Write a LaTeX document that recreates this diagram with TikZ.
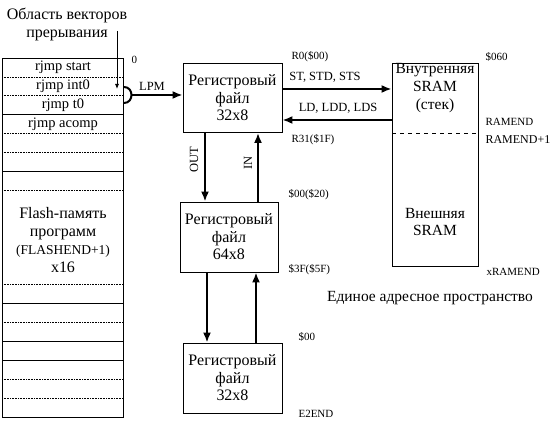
\documentclass[tikz,border=0pt]{standalone}
\usepackage{fontspec}
\setmainfont{Liberation Serif}
\usepackage{tikz}
\usetikzlibrary{positioning,arrows.meta,calc}

\begin{document}
\begin{tikzpicture}[x=1pt, y=-1pt, font=\fontsize{15}{18}\selectfont,
  membox/.style={draw, line width=0.8pt, inner sep=0pt, align=center,
                 font=\fontsize{16}{17.5}\selectfont},
  bus/.style={line width=2.4pt, -{Latex[length=10pt,width=8pt]}},
  addr/.style={anchor=west, font=\fontsize{11}{13}\selectfont},
  buslabel/.style={font=\fontsize{12.5}{14}\selectfont},
  rowsep/.style={densely dotted, line width=0.6pt},
  rowline/.style={line width=0.8pt}]
\useasboundingbox (0,0) rectangle (558,427);
% flash program memory
\node[membox, minimum width=121pt, minimum height=359pt] (flash) at (62.5,237.5) {};
\foreach \k/\st in {1/rowsep,2/rowsep,3/rowline,4/rowsep,5/rowsep,6/rowline,7/rowsep,
                    12/rowsep,13/rowline,14/rowsep,15/rowline,16/rowline,17/rowsep,18/rowsep}
  \draw[\st] (2,{58+18.9*\k}) -- (123,{58+18.9*\k});
\node[font=\fontsize{14.5}{17}\selectfont] (rstart) at (63,67.5) {rjmp start};
\node[font=\fontsize{14.5}{17}\selectfont] (rint) at (63,86.4) {rjmp int0};
\node[font=\fontsize{14.5}{17}\selectfont] (rtim) at (63,105.3) {rjmp t0};
\node[font=\fontsize{14.5}{17}\selectfont] (racomp) at (63,124.2) {rjmp acomp};
\node[align=center, font=\fontsize{16}{17.7}\selectfont] (flashtxt) at (63,240)
  {Flash-память\\программ\\{\fontsize{13.5}{14}\selectfont (FLASHEND+1)}\\x16};
% interrupt vectors
\node[align=center, font=\fontsize{16}{18}\selectfont] (vecarea) at (67,24) {Область векторов\\прерывания};
\coordinate (vtop) at (117,31);
\coordinate (vend) at (117,89);
\draw[-{Latex[length=5pt,width=4pt]}, line width=0.8pt] (vtop) -- (vend);
\node[addr] (zero) at (128,60) {0};
% LPM
\coordinate (lpmA) at (124,87);
\coordinate (lpmB) at (124,103);
\draw[line width=2pt] (lpmA) .. controls (134,87) and (134,103) .. (lpmB);
\coordinate (lpmstart) at (131,95);
% register files
\node[membox, minimum width=99pt, minimum height=69pt] (rf1) at (232.5,98) {Регистровый\\файл\\32x8};
\node[membox, minimum width=98pt, minimum height=70pt] (rf2) at (229,237) {Регистровый\\файл\\64x8};
\node[membox, minimum width=99pt, minimum height=70pt] (rf3) at (232.5,378) {Регистровый\\файл\\32x8};
\draw[bus] (lpmstart) -- (rf1.west |- lpmstart);
\node[buslabel] (lpm) at (152,86) {LPM};
% SRAM
\node[membox, minimum width=86pt, minimum height=203pt] (sram) at (435,164.5) {};
\node[align=center, font=\fontsize{15.5}{17.7}\selectfont] (sramin) at (435,88) {Внутренняя\\SRAM\\(стек)};
\node[align=center, font=\fontsize{15.5}{17.7}\selectfont] (sramex) at (435,222) {Внешняя\\SRAM};
\draw[line width=0.6pt, dash pattern=on 4pt off 4pt] (392,133) -- (478,133);
\draw[bus] ([yshift=9pt]rf1.east) -- ([yshift=9pt]rf1.east -| sram.west);
\draw[bus] ([yshift=-22pt]rf1.east -| sram.west) -- ([yshift=-22pt]rf1.east);
\node[buslabel] (stlbl) at (325,77) {ST, STD, STS};
\node[buslabel] (ldlbl) at (338,108) {LD, LDD, LDS};
% IN / OUT
\draw[bus] ([xshift=-27.5pt]rf1.south) -- ([xshift=-27.5pt]rf1.south |- rf2.north);
\draw[bus] ([xshift=25.5pt]rf1.south |- rf2.north) -- ([xshift=25.5pt]rf1.south);
\node[buslabel, rotate=90] (outlbl) at (194,160) {OUT};
\node[buslabel, rotate=90] (inlbl) at (248,163) {IN};
\draw[bus] ([xshift=-22pt]rf2.south) -- ([xshift=-22pt]rf2.south |- rf3.north);
\draw[bus] ([xshift=27pt]rf2.south |- rf3.north) -- ([xshift=27pt]rf2.south);
% addresses
\node[addr] (r0) at (288,57) {R0(\$00)};
\node[addr] (r31) at (288,140) {R31(\$1F)};
\node[addr] (io0) at (285,195) {\$00(\$20)};
\node[addr] (io3f) at (285,270) {\$3F(\$5F)};
\node[addr] (ee0) at (295,337) {\$00};
\node[addr] (e2end) at (295,414) {E2END};
\node[addr] (s060) at (482,57) {\$060};
\node[addr] (ramend) at (482,122) {RAMEND};
\node[addr, font=\fontsize{12}{14}\selectfont] (ramend1) at (482,140) {RAMEND+1};
\node[addr] (xramend) at (483,272) {xRAMEND};
\node[font=\fontsize{15.5}{18}\selectfont] (space) at (430,298) {Единое адресное пространство};
\end{tikzpicture}
\end{document}
